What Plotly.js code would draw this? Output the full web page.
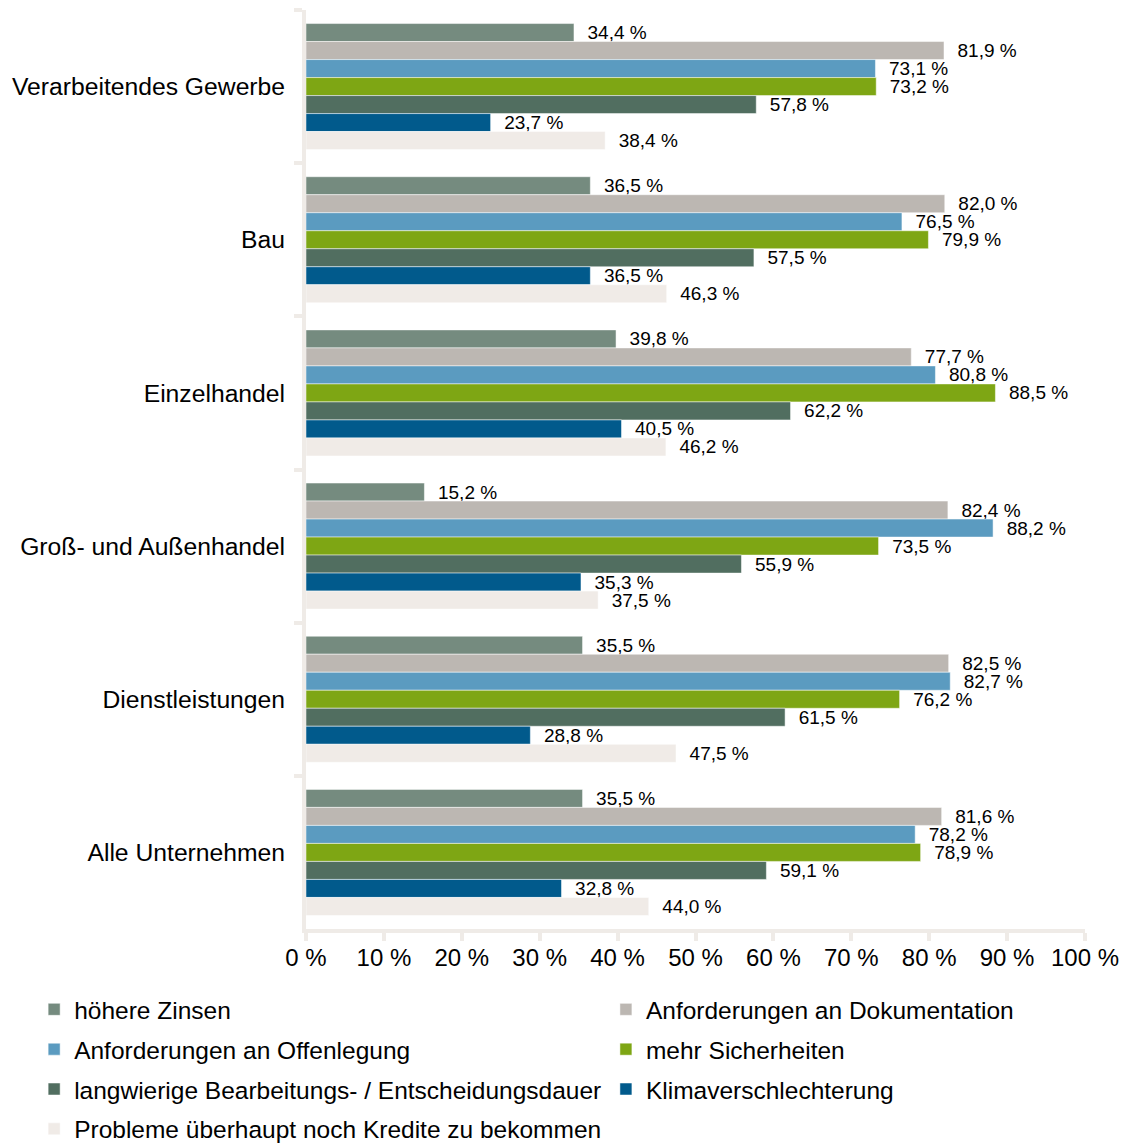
<!DOCTYPE html>
<html><head><meta charset="utf-8">
<script src="https://cdn.plot.ly/plotly-3.0.1.min.js"></script>
<style>html,body{margin:0;padding:0;background:#fff}</style>
</head><body><div id="chart" style="width:1121px;height:1144px"></div>
<script>
const categories = ["Verarbeitendes Gewerbe","Bau","Einzelhandel","Groß- und Außenhandel","Dienstleistungen","Alle Unternehmen"];
const seriesNames = ["höhere Zinsen","Anforderungen an Dokumentation","Anforderungen an Offenlegung","mehr Sicherheiten","langwierige Bearbeitungs- / Entscheidungsdauer","Klimaverschlechterung","Probleme überhaupt noch Kredite zu bekommen"];
const hoehereZinsen = [34.4,36.5,39.8,15.2,35.5,35.5];
const dokumentation = [81.9,82.0,77.7,82.4,82.5,81.6];
const offenlegung = [73.1,76.5,80.8,88.2,82.7,78.2];
const sicherheiten = [73.2,79.9,88.5,73.5,76.2,78.9];
const bearbeitungsdauer = [57.8,57.5,62.2,55.9,61.5,59.1];
const klima = [23.7,36.5,40.5,35.3,28.8,32.8];
const probleme = [38.4,46.3,46.2,37.5,47.5,44.0];
const xTicks = [0,10,20,30,40,50,60,70,80,90,100];
const xTickLabels = ["0 %","10 %","20 %","30 %","40 %","50 %","60 %","70 %","80 %","90 %","100 %"];

const seriesValues = [hoehereZinsen,dokumentation,offenlegung,sicherheiten,bearbeitungsdauer,klima,probleme];
const colors = ["#758b7f","#bcb7b2","#5b9bc0","#7ea614","#516e60","#015a8c","#f0ebe7"];
const legendOf = ["legend","legend2","legend","legend2","legend","legend2","legend"];
const FONT = '"Liberation Sans", Arial, sans-serif';

const traces = seriesValues.map((vals,i)=>({
  type:"bar", orientation:"h", name:seriesNames[i],
  y:categories, x:vals,
  marker:{color:colors[i], line:{color:"#ffffff", width:0.5}},
  texttemplate:"\u00a0\u00a0%{x:.1f} %", textposition:"outside", cliponaxis:false,
  constraintext:"none",
  textfont:{size:19, color:"#000", family:FONT},
  legend:legendOf[i], legendgroup:"g"+i,
  hoverinfo:"x+name"
}));

const legendStyle = {
  orientation:"v", font:{size:24.5, color:"#000", family:FONT},
  tracegroupgap:5, itemwidth:30, bgcolor:"rgba(0,0,0,0)", yanchor:"top", xanchor:"left"
};

const layout = {
  width:1121, height:1144,
  margin:{l:306, r:36, t:10, b:215, autoexpand:false},
  separators:", ",
  font:{family:FONT, color:"#000", size:24},
  barmode:"group", bargap:0.177, bargroupgap:0,
  plot_bgcolor:"#fff", paper_bgcolor:"#fff",
  showlegend:true,
  legend:Object.assign({}, legendStyle, {x:-0.349, y:-0.063}),
  legend2:Object.assign({}, legendStyle, {x:0.385, y:-0.063}),
  xaxis:{range:[0,100], tickmode:"array", tickvals:xTicks, ticktext:xTickLabels, showgrid:false, zeroline:false,
    showline:true, linecolor:"#efebe7", linewidth:4, ticks:"outside", ticklen:8, tickwidth:4, tickcolor:"#efebe7",
    tickfont:{size:24, family:FONT}, ticklabelstandoff:-4},
  yaxis:{type:"category", autorange:"reversed", showgrid:false, zeroline:false,
    showline:true, linecolor:"#efebe7", linewidth:4, ticks:"outside", ticklen:8, tickwidth:4, tickcolor:"#efebe7",
    tickson:"boundaries", tickfont:{size:24.7, family:FONT}, ticklabelstandoff:12}
};

Plotly.newPlot("chart", traces, layout, {staticPlot:true, displayModeBar:false});
</script></body></html>
